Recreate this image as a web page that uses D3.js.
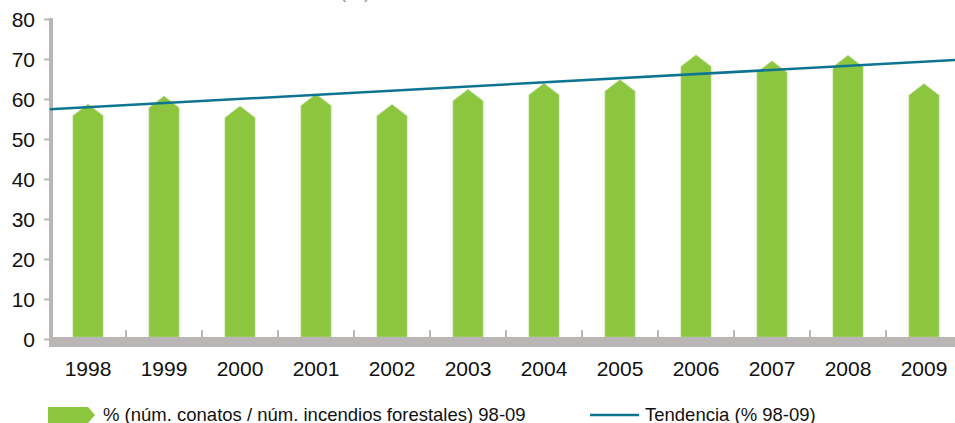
<!DOCTYPE html>
<html>
<head>
<meta charset="utf-8">
<script src="https://cdn.jsdelivr.net/npm/d3@7"></script>
<style>
  body { margin: 0; background: #fff; overflow: hidden; }
  text { font-family: "Liberation Sans", Arial, sans-serif; }
</style>
</head>
<body>
<div id="chart"></div>
<script>
// % conatos sobre incendios forestales, 1998-2009

var years = ["1998", "1999", "2000", "2001", "2002", "2003", "2004", "2005", "2006", "2007", "2008", "2009"];
var pctConatos = [58.7, 60.7, 58.2, 61.2, 58.6, 62.4, 63.9, 64.8, 71.0, 69.5, 70.9, 63.8];
var yTicks = [0, 10, 20, 30, 40, 50, 60, 70, 80];
var barLabel = "% (núm. conatos / núm. incendios forestales) 98-09";
var trendLabel = "Tendencia (% 98-09)";

var svgWidth = 955;
var svgHeight = 423;

var green = "#8cc63f";
var teal = "#0e7591";
var grey = "#bab6b5";

var svg = d3.select("#chart")
  .append("svg")
  .attr("width", svgWidth)
  .attr("height", svgHeight);

var xScale = d3.scaleBand()
  .domain(years)
  .range([50, 962])
  .padding(0);

var yScale = d3.scaleLinear()
  .domain([0, 80])
  .range([339, 19]);

// title, almost entirely off the top of the picture
svg.append("text")
  .attr("x", 355)
  .attr("y", -2)
  .attr("text-anchor", "middle")
  .attr("font-size", "20px")
  .attr("fill", "#9a9a9a")
  .text("(%)");

// y axis
var leftAxis = d3.axisLeft(yScale).tickValues(yTicks).tickSize(7).tickPadding(9);
var yAxis = svg.append("g")
  .attr("transform", "translate(51,0)")
  .call(leftAxis);
yAxis.select(".domain").remove();
yAxis.selectAll(".tick line").attr("stroke", grey).attr("stroke-width", 2);
yAxis.selectAll(".tick text")
  .attr("font-size", "21px")
  .attr("fill", "#111")
  .attr("dy", "0.36em");
svg.append("line")
  .attr("x1", 51).attr("x2", 51)
  .attr("y1", yScale(80) - 1).attr("y2", 347)
  .attr("stroke", grey)
  .attr("stroke-width", 4);

// bars with pointed tops
var barW = 30;
var tip = 11.5;
svg.append("g")
  .selectAll("path")
  .data(pctConatos)
  .enter()
  .append("path")
  .attr("d", function(d, i) {
    var cx = xScale(years[i]) + xScale.bandwidth() / 2;
    var y0 = yScale(0) - 2;
    var yt = yScale(d);
    return "M" + (cx - barW / 2) + "," + y0 +
      "L" + (cx - barW / 2) + "," + (yt + tip) +
      "L" + cx + "," + yt +
      "L" + (cx + barW / 2) + "," + (yt + tip) +
      "L" + (cx + barW / 2) + "," + y0 + "Z";
  })
  .attr("fill", green)
  .attr("stroke", "#a9d57a")
  .attr("stroke-width", 0.8);

// x axis band and ticks between categories
svg.append("rect")
  .attr("x", 49)
  .attr("y", 337)
  .attr("width", 962 - 49)
  .attr("height", 10)
  .attr("fill", grey);

svg.append("g")
  .selectAll("line")
  .data(years.slice(1))
  .enter()
  .append("line")
  .attr("x1", function(d) { return xScale(d); })
  .attr("x2", function(d) { return xScale(d); })
  .attr("y1", 330)
  .attr("y2", 337)
  .attr("stroke", grey)
  .attr("stroke-width", 2);

var bottomAxis = d3.axisBottom(xScale).tickSize(0).tickPadding(0);
var xAxis = svg.append("g")
  .attr("transform", "translate(0,361)")
  .call(bottomAxis);
xAxis.select(".domain").remove();
xAxis.selectAll(".tick text")
  .attr("font-size", "21px")
  .attr("fill", "#111");

// linear trend (least squares on the bar values)
var n = pctConatos.length;
var xm = d3.mean(pctConatos, function(d, i) { return i; });
var ym = d3.mean(pctConatos);
var sxy = d3.sum(pctConatos, function(d, i) { return (i - xm) * (d - ym); });
var sxx = d3.sum(pctConatos, function(d, i) { return (i - xm) * (i - xm); });
var slope = sxy / sxx;
var icpt = ym - slope * xm;
var xIdx = d3.scaleLinear().domain([-0.5, n - 0.5]).range([50, 962]);
var trendPts = [-0.5, n - 0.5];

svg.append("path")
  .datum(trendPts)
  .attr("d", d3.line()
    .x(function(t) { return xIdx(t); })
    .y(function(t) { return yScale(icpt + slope * t); }))
  .attr("fill", "none")
  .attr("stroke", teal)
  .attr("stroke-width", 2.5);

// legend
var legend = svg.append("g");
legend.append("path")
  .attr("d", "M48,407L88,407L95,415L88,423L48,423Z")
  .attr("fill", green);
legend.append("text")
  .attr("x", 103)
  .attr("y", 421)
  .attr("font-size", "18.5px")
  .attr("fill", "#111")
  .text(barLabel);
legend.append("line")
  .attr("x1", 590).attr("x2", 639)
  .attr("y1", 415).attr("y2", 415)
  .attr("stroke", teal)
  .attr("stroke-width", 2.5);
legend.append("text")
  .attr("x", 645)
  .attr("y", 421)
  .attr("font-size", "18.5px")
  .attr("fill", "#111")
  .text(trendLabel);
</script>
</body>
</html>
